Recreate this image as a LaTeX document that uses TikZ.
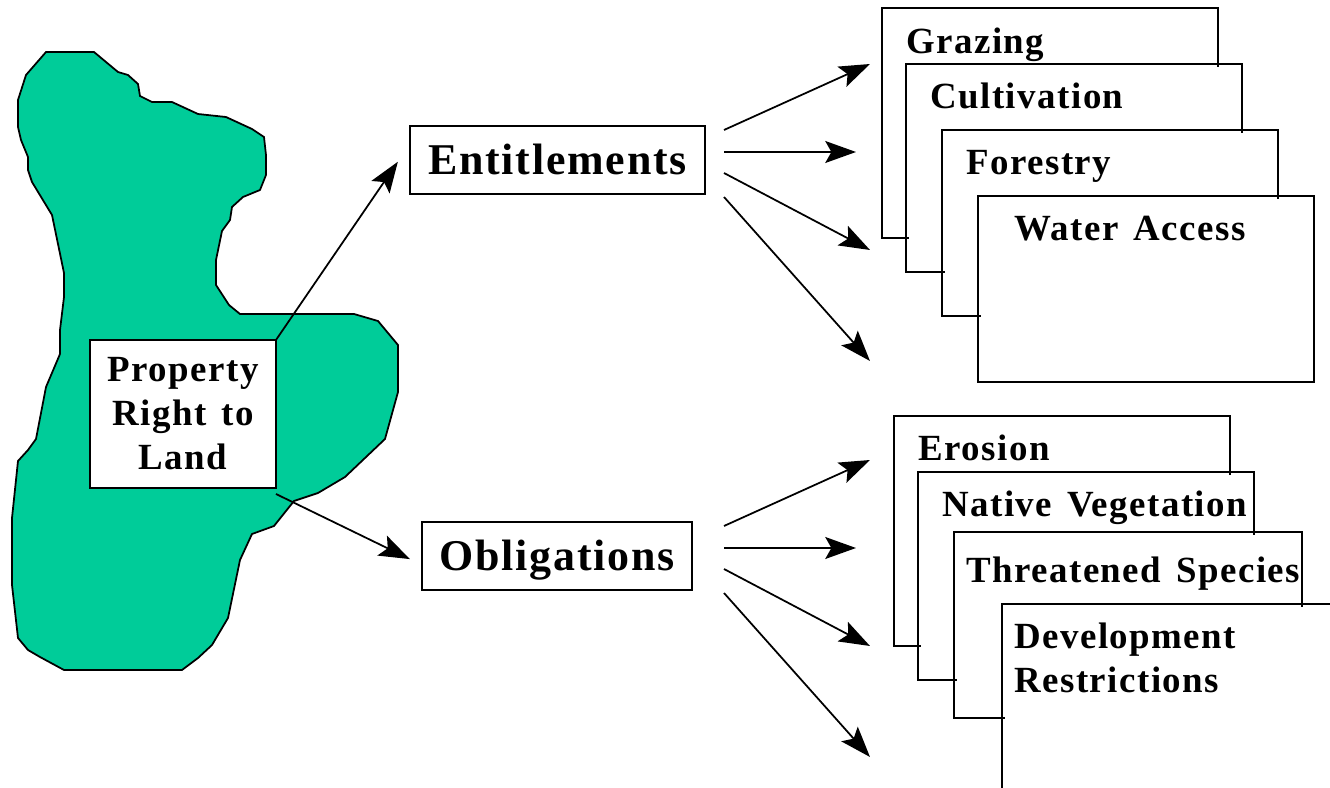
\documentclass[tikz,border=0pt]{standalone}
\usepackage{fontspec}
\usepackage{xcolor}
\setmainfont[LetterSpace=4, WordSpace=1.4]{Liberation Serif}
\usetikzlibrary{arrows.meta, calc}
\definecolor{landgreen}{RGB}{0,204,153}

\tikzset{
    wire/.style={line width=1pt, -{Stealth[length=17.5pt, width=12.5pt, inset=3.5pt]}},
    mainbox/.style={draw, line width=1pt, fill=white, anchor=north west, inner sep=0pt, outer sep=0pt, font=\bfseries\fontsize{25}{29}\selectfont},
    headbox/.style={mainbox, minimum height=1.36cm, text height=20pt, text depth=3pt},
    cardbox/.style={draw, line width=1pt, fill=white, anchor=north west, inner sep=0pt, outer sep=0pt, minimum width=6.72cm},
    cardtext/.style={anchor=base west, inner sep=0pt, align=left, font=\bfseries\fontsize{21}{25}\selectfont},
}

\begin{document}
\begin{tikzpicture}[x=0.02cm, y=-0.02cm]
    \useasboundingbox (0,0) rectangle (1330,788);
    \clip (0,0) rectangle (1330,788);

    % the parcel of land
    \draw[line width=1pt, fill=landgreen] (46,52) -- (94,52) -- (118,72) -- (128,75) -- (138,84) -- (140,96)
        -- (152,102) -- (172,102) -- (198,114) -- (226,117) -- (252,129) -- (264,137) -- (266,155)
        -- (266,175) -- (260,190) -- (243,197) -- (232,207) -- (230,220) -- (222,231) -- (216,260)
        -- (216,285) -- (229,305) -- (240,314) -- (354,314) -- (378,321) -- (398,345) -- (398,392)
        -- (385,439) -- (345,477) -- (318,493) -- (294,501) -- (274,526) -- (252,534) -- (240,560)
        -- (228,618) -- (212,645) -- (198,658) -- (182,670) -- (64,670) -- (40,657) -- (28,650)
        -- (18,638) -- (12,585) -- (12,518) -- (18,461) -- (28,450) -- (36,439) -- (46,387)
        -- (60,354) -- (60,330) -- (64,297) -- (64,273) -- (52,215) -- (32,182) -- (28,170)
        -- (28,157) -- (21,140) -- (18,127) -- (18,100) -- (26,75) -- cycle;

    \node[mainbox, minimum width=3.72cm, minimum height=2.96cm, align=center, font=\bfseries\fontsize{21}{25}\selectfont] (prop) at (90,340) {Property\\Right to\\Land};
    \node[headbox, minimum width=5.9cm] (ent) at (410,126) {Entitlements};
    \node[headbox, minimum width=5.4cm] (obl) at (422,522) {Obligations};

    \draw[wire, shorten >=0.43cm] (prop.north east) -- ([yshift=0.32cm]ent.west);
    \draw[wire, shorten >=0.27cm] ([yshift=-0.12cm]prop.south east) -- ([yshift=-0.18cm]obl.west);

    % fans out of the two boxes
    \foreach \hub in {ent, obl} {
        \foreach \from/\to/\endx in {-30/-96/870, -8/-8/856, 13/90/870, 37/201/870} {
            \coordinate (a) at (\hub.center -| 724,0);
            \coordinate (b) at (\hub.center -| \endx,0);
            \draw[wire] ($(a)+(0,\from)$) -- ($(b)+(0,\to)$);
        }
    }

    % upper stack
    \node[cardbox, minimum height=4.6cm] (graze) at (882,8) {};
    \node[cardbox, minimum height=4.16cm] (cult) at (906,64) {};
    \node[cardbox, minimum height=3.72cm] (forest) at (942,130) {};
    \node[cardbox, minimum height=3.72cm] (water) at (978,196) {};

    % lower stack
    \node[cardbox, minimum height=4.6cm] (erosion) at (894,416) {};
    \node[cardbox, minimum height=4.16cm] (veg) at (918,472) {};
    \node[cardbox, minimum height=3.72cm, minimum width=6.96cm] (species) at (954,532) {};
    \node[cardbox, minimum height=4cm] (devel) at (1002,604) {};

    % small overshoots where the cards meet
    \foreach \back/\front in {graze/cult, cult/forest, forest/water, erosion/veg, veg/species, species/devel} {
        \draw[line width=1pt] (\front.west |- \back.south) -- ++(2.5,0);
        \draw[line width=1pt] (\back.east |- \front.north) -- ++(0,2.5);
    }

    \node[cardtext] (grazetext) at (906,53) {Grazing};
    \node[cardtext] (culttext) at (930,108) {Cultivation};
    \node[cardtext] (foresttext) at (966,174) {Forestry};
    \node[cardtext] (watertext) at (1014,240) {Water Access};
    \node[cardtext] (erosiontext) at (918,460) {Erosion};
    \node[cardtext] (vegtext) at (942,516) {Native Vegetation};
    \node[cardtext] (speciestext) at (966,582) {Threatened Species};
    \node[cardtext] (develtext) at (1014,692) {Development\\Restrictions};
\end{tikzpicture}
\end{document}
